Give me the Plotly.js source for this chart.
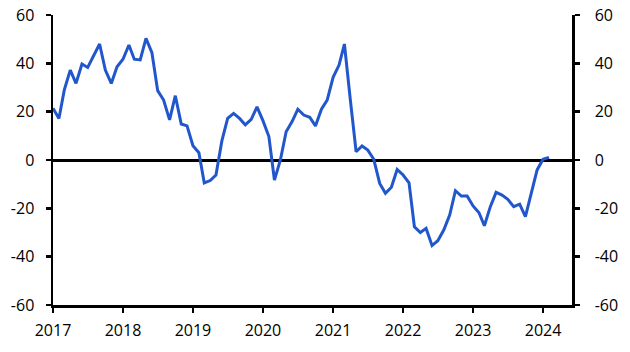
<!DOCTYPE html>
<html>
<head>
<meta charset="utf-8">
<script src="https://cdn.plot.ly/plotly-3.0.1.min.js"></script>
<style>html,body{margin:0;padding:0;background:#fff;}#chart{width:630px;height:352px;}</style>
</head>
<body>
<div id="chart"></div>
<script>
const months = [
 "2017-01-01","2017-02-01","2017-03-01","2017-04-01","2017-05-01","2017-06-01","2017-07-01","2017-08-01","2017-09-01","2017-10-01","2017-11-01","2017-12-01",
 "2018-01-01","2018-02-01","2018-03-01","2018-04-01","2018-05-01","2018-06-01","2018-07-01","2018-08-01","2018-09-01","2018-10-01","2018-11-01","2018-12-01",
 "2019-01-01","2019-02-01","2019-03-01","2019-04-01","2019-05-01","2019-06-01","2019-07-01","2019-08-01","2019-09-01","2019-10-01","2019-11-01","2019-12-01",
 "2020-01-01","2020-02-01","2020-03-01","2020-04-01","2020-05-01","2020-06-01","2020-07-01","2020-08-01","2020-09-01","2020-10-01","2020-11-01","2020-12-01",
 "2021-01-01","2021-02-01","2021-03-01","2021-04-01","2021-05-01","2021-06-01","2021-07-01","2021-08-01","2021-09-01","2021-10-01","2021-11-01","2021-12-01",
 "2022-01-01","2022-02-01","2022-03-01","2022-04-01","2022-05-01","2022-06-01","2022-07-01","2022-08-01","2022-09-01","2022-10-01","2022-11-01","2022-12-01",
 "2023-01-01","2023-02-01","2023-03-01","2023-04-01","2023-05-01","2023-06-01","2023-07-01","2023-08-01","2023-09-01","2023-10-01","2023-11-01","2023-12-01",
 "2024-01-01","2024-02-01"
];
const values = [
 21.4, 17.2, 29, 37.2, 31.7, 39.7, 38.3, 43, 48, 37.2, 31.7, 38.6,
 41.7, 47.6, 41.7, 41.4, 50.3, 44.4, 28.7, 24.8, 16.6, 26.6, 14.9, 14.1,
 5.9, 3, -9.5, -8.5, -6.2, 8, 17.2, 19.3, 17.2, 14.5, 16.8, 22,
 16.3, 9.7, -8.3, 0, 11.7, 15.9, 21, 18.6, 17.7, 14.1, 21, 24.8,
 34.2, 39.3, 48, 24.8, 3.4, 5.8, 4.1, 0.3, -9.7, -13.8, -11.3, -3.9,
 -6.2, -9.4, -27.6, -30, -28.3, -35.4, -33.4, -29, -22.8, -12.7, -14.9, -14.9,
 -19, -21.8, -27.2, -19.3, -13.4, -14.5, -16.3, -19.3, -18.3, -23.4, -13.8, -4.1,
 0.3, 1.1
];
const yTicks = [-60, -40, -20, 0, 20, 40, 60];
const xTickVals = ["2017-01-01","2018-01-01","2019-01-01","2020-01-01","2021-01-01","2022-01-01","2023-01-01","2024-01-01"];
const xTickText = ["2017","2018","2019","2020","2021","2022","2023","2024"];

const font = {family: "Open Sans, DejaVu Sans, sans-serif", size: 16, color: "#000"};
const yaxisBase = {
  range: [-60, 60], tickvals: yTicks, ticktext: yTicks.map(String),
  showgrid: false, showline: true, linecolor: "#000", linewidth: 2.5,
  ticks: "outside", ticklen: 5, tickwidth: 2.5, tickcolor: "#000",
  tickfont: font, fixedrange: true
};
const data = [
  {x: months, y: values, type: "scatter", mode: "lines",
   line: {color: "#2257cc", width: 3}, hoverinfo: "skip", showlegend: false},
  {x: months, y: values, type: "scatter", mode: "lines", yaxis: "y2",
   line: {color: "rgba(0,0,0,0)", width: 0}, hoverinfo: "skip", showlegend: false}
];
const layout = {
  width: 630, height: 352,
  margin: {l: 53, r: 58, t: 15, b: 47},
  paper_bgcolor: "#fff", plot_bgcolor: "#fff",
  font: font, showlegend: false,
  xaxis: {
    type: "date", range: ["2017-01-01", "2024-05-31"],
    tickvals: xTickVals, ticktext: xTickText,
    showgrid: false, zeroline: false, showline: true, linecolor: "#000", linewidth: 2.5,
    ticks: "outside", ticklen: 5, tickwidth: 2.5, tickcolor: "#000",
    ticklabelstandoff: 4, tickfont: font, fixedrange: true
  },
  yaxis: Object.assign({}, yaxisBase, {side: "left", ticklabelstandoff: 8, zeroline: true, zerolinecolor: "#000", zerolinewidth: 3}),
  yaxis2: Object.assign({}, yaxisBase, {side: "right", overlaying: "y", ticklabelstandoff: 12, zeroline: false})
};
Plotly.newPlot("chart", data, layout, {staticPlot: true, displayModeBar: false});
</script>
</body>
</html>
